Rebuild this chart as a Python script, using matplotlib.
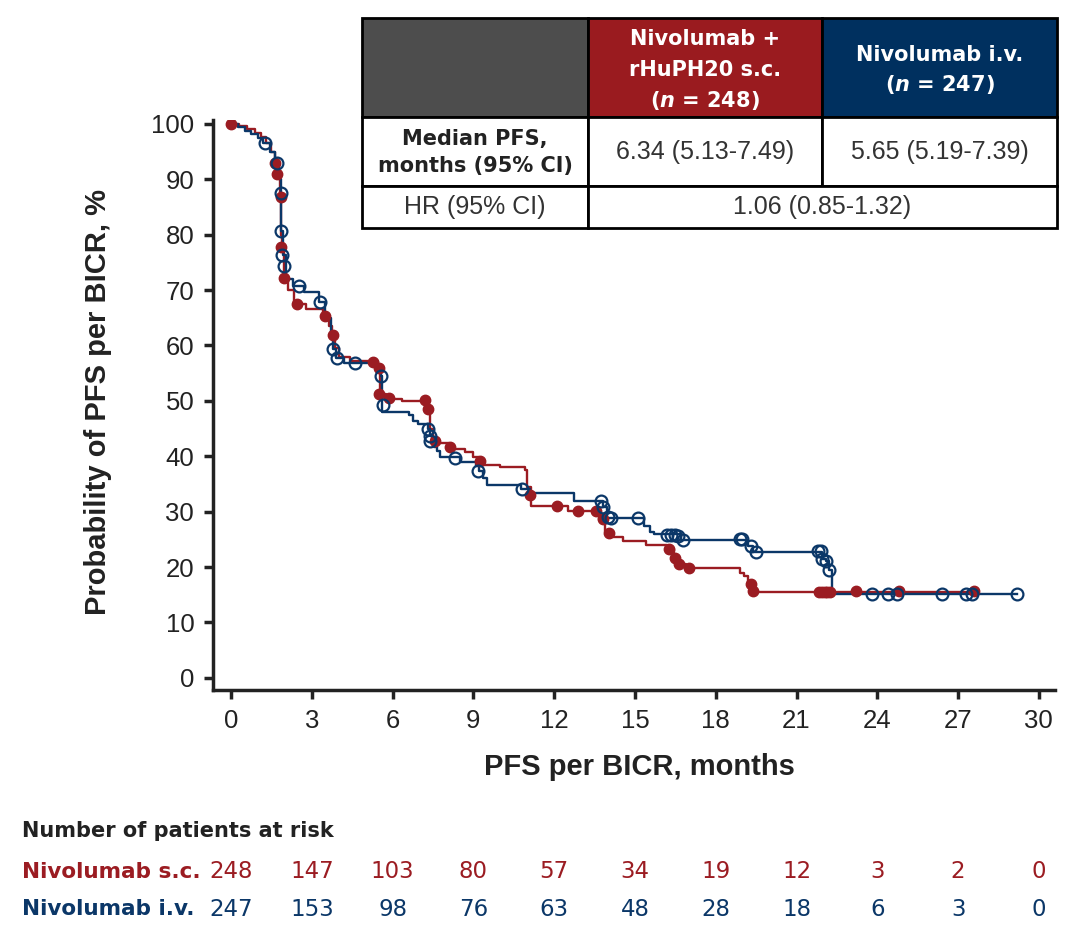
import matplotlib
matplotlib.use("Agg")
import matplotlib.pyplot as plt
import matplotlib.transforms as mtransforms
from matplotlib.patches import Rectangle

plt.rcParams['font.family'] = ['Liberation Sans', 'DejaVu Sans']

RED = "#9b1c22"
NAVY = "#0b3768"
INK = "#222222"

# Kaplan-Meier step curves (months, % PFS)
sc_t = [0, 0.3, 0.6, 0.9, 1.1, 1.3, 1.5, 1.65, 1.75, 1.82, 1.86, 1.9, 1.95, 2.1, 2.35,
        2.8, 3.4, 3.65, 3.75, 3.85, 4.0, 4.4, 5.45, 5.55, 5.75, 6.35, 7.3, 7.4, 7.5,
        8.1, 8.7, 9.0, 9.2, 9.4, 10.0, 10.9, 11.0, 11.15, 12.5, 13.65, 13.9, 14.2,
        14.55, 15.4, 16.2, 16.45, 16.6, 16.9, 18.9, 19.05, 19.2, 19.3, 27.7]
sc_s = [100, 99.6, 99.0, 98.4, 97.6, 96.6, 95.0, 93.0, 91.0, 87.0, 80.0, 77.5, 72.2, 70.0, 67.4,
        66.5, 65.4, 63.5, 61.8, 59.5, 58.0, 57.2, 56.2, 51.2, 50.4, 49.9, 48.6, 45.0, 42.3,
        41.3, 40.7, 39.8, 39.2, 38.5, 38.0, 37.5, 34.5, 31.0, 30.2, 28.5, 26.3, 25.4,
        24.7, 24.0, 23.2, 21.8, 20.6, 19.75, 19.0, 18.3, 17.0, 15.55, 15.55]

iv_t = [0, 0.25, 0.5, 0.75, 1.0, 1.2, 1.45, 1.65, 1.78, 1.84, 1.87, 1.92, 2.05, 2.3, 2.7,
        3.25, 3.5, 3.7, 3.78, 3.9, 4.2, 5.45, 5.56, 5.62, 6.6, 6.75, 6.95, 7.3, 7.38,
        7.45, 7.55, 7.65, 7.75, 8.5, 9.1, 9.2, 9.35, 9.5, 10.75, 11.1, 12.75, 13.8,
        13.95, 15.35, 15.55, 15.7, 16.7, 19.2, 19.4, 21.95, 22.1, 22.2, 22.3, 29.2]
iv_s = [100, 99.4, 98.8, 98.2, 97.5, 96.6, 95.0, 93.0, 90.0, 87.6, 80.6, 76.4, 72.0, 70.7, 69.6,
        67.8, 65.0, 62.0, 59.3, 57.8, 56.9, 55.5, 54.5, 48.0, 47.4, 46.4, 45.8, 44.9, 43.7,
        42.5, 41.6, 41.0, 39.8, 39.0, 38.3, 37.4, 36.0, 34.8, 34.0, 33.3, 31.95, 30.8,
        28.8, 27.4, 26.3, 25.9, 24.9, 23.8, 22.8, 21.4, 21.1, 19.5, 15.1, 15.1]

# censored observations
sc_cens_t = [0, 1.63, 1.7, 1.84, 1.84, 1.95, 2.45, 3.49, 3.78, 5.27, 5.5, 5.5, 5.85, 7.2, 7.33,
             7.58, 8.14, 9.26, 11.09, 12.1, 12.87, 13.56, 13.8, 14.05, 16.28, 16.5, 16.65,
             17.0, 19.3, 19.37, 21.85, 21.95, 22.05, 22.15, 22.25, 23.2, 24.8, 27.6]
sc_cens_s = [100, 93, 91, 86.8, 77.7, 72.2, 67.4, 65.4, 61.8, 57.0, 56.0, 51.2, 50.6, 50.2, 48.6,
             42.8, 41.6, 39.2, 33.0, 31.1, 30.2, 30.2, 28.6, 26.1, 23.2, 21.7, 20.6,
             19.75, 16.9, 15.7, 15.55, 15.55, 15.55, 15.55, 15.55, 15.7, 15.7, 15.7]

iv_cens_t = [1.26, 1.7, 1.84, 1.84, 1.88, 1.95, 2.52, 3.3, 3.78, 3.92, 4.6, 5.56, 5.66, 7.33,
             7.4, 7.4, 8.33, 9.17, 10.8, 13.75, 13.8, 14.0, 14.1, 15.1, 16.2, 16.35, 16.5,
             16.6, 16.8, 18.9, 18.98, 19.3, 19.5, 21.78, 21.9, 21.96, 22.1, 22.2, 23.8,
             24.4, 24.75, 26.4, 27.3, 27.5, 29.2]
iv_cens_s = [96.6, 93, 87.6, 80.6, 76.4, 74.3, 70.7, 67.8, 59.3, 57.8, 56.8, 54.5, 49.2, 44.9,
             43.7, 42.8, 39.6, 37.4, 34.0, 31.95, 30.8, 29.0, 28.8, 28.8, 25.8, 25.8, 25.8,
             25.6, 24.9, 25.0, 25.0, 23.8, 22.8, 22.9, 22.9, 21.4, 21.1, 19.5, 15.1,
             15.1, 15.1, 15.1, 15.1, 15.1, 15.1]

risk_times = [0, 3, 6, 9, 12, 15, 18, 21, 24, 27, 30]
risk_sc = [248, 147, 103, 80, 57, 34, 19, 12, 3, 2, 0]
risk_iv = [247, 153, 98, 76, 63, 48, 28, 18, 6, 3, 0]

fig = plt.figure(figsize=(10.8, 9.36), dpi=100)
ax = fig.add_axes([213 / 1080, 1 - 690 / 936, (1055 - 213) / 1080, (690 - 120) / 936])

ax.step(sc_t, sc_s, where='post', color=RED, lw=1.7, zorder=3)
ax.step(iv_t, iv_s, where='post', color=NAVY, lw=1.7, zorder=4)
ax.plot(sc_cens_t, sc_cens_s, 'o', color=RED, ms=7.5, zorder=5)
ax.plot(iv_cens_t, iv_cens_s, 'o', mfc='none', mec=NAVY, mew=1.6, ms=8.5, zorder=6)

ax.set_xlim(-0.67, 30.6)
ax.set_ylim(-2.2, 100.7)
ax.set_xticks(risk_times)
ax.set_yticks(range(0, 101, 10))
ax.tick_params(labelsize=18.5, width=2.5, length=6.5, pad=7, color=INK, labelcolor=INK)
for side in ['top', 'right']:
    ax.spines[side].set_visible(False)
for side in ['left', 'bottom']:
    ax.spines[side].set_linewidth(2.5)
    ax.spines[side].set_color(INK)
ax.set_xlabel('PFS per BICR, months', fontsize=21, fontweight='bold', color=INK)
ax.set_ylabel('Probability of PFS per BICR, %', fontsize=21, fontweight='bold', color=INK)
ax.xaxis.set_label_coords(0.506, -0.11)
ax.yaxis.set_label_coords(-0.12, 0.505)

# overlay in pixel coordinates for the table and risk table
ov = fig.add_axes([0, 0, 1, 1], zorder=10)
ov.set_xlim(0, 1080)
ov.set_ylim(936, 0)
ov.axis('off')
ov.patch.set_alpha(0)

cols = [362, 588, 822, 1057]
rows = [18, 117, 186, 228]
cells = [
    (0, 1, 0, 1, '#4d4d4d'),
    (1, 2, 0, 1, '#9a1b1f'),
    (2, 3, 0, 1, '#00305f'),
    (0, 1, 1, 2, 'white'),
    (1, 2, 1, 2, 'white'),
    (2, 3, 1, 2, 'white'),
    (0, 1, 2, 3, 'white'),
    (1, 3, 2, 3, 'white'),
]
for c0, c1, r0, r1, fc in cells:
    ov.add_patch(Rectangle((cols[c0], rows[r0]), cols[c1] - cols[c0], rows[r1] - rows[r0],
                           fc=fc, ec='black', lw=2))

hb = dict(ha='center', va='center', fontsize=15, fontweight='bold', family='DejaVu Sans')
hr = dict(ha='center', va='center', fontsize=18, color='#333333')
xc1 = (cols[1] + cols[2]) / 2
xc2 = (cols[2] + cols[3]) / 2
xc0 = (cols[0] + cols[1]) / 2
ov.text(xc1, 39, 'Nivolumab +', color='white', **hb)
ov.text(xc1, 70, 'rHuPH20 s.c.', color='white', **hb)
ov.text(xc1, 100, '($\\mathbfit{n}$ = 248)', color='white', **hb)
ov.text(xc2, 55, 'Nivolumab i.v.', color='white', **hb)
ov.text(xc2, 85, '($\\mathbfit{n}$ = 247)', color='white', **hb)
ov.text(xc0, 139, 'Median PFS,', color=INK, **hb)
ov.text(xc0, 166, 'months (95% CI)', color=INK, **hb)
ov.text(xc1, 152, '6.34 (5.13-7.49)', **hr)
ov.text(xc2, 152, '5.65 (5.19-7.39)', **hr)
ov.text(xc0, 207, 'HR (95% CI)', **hr)
ov.text((cols[1] + cols[3]) / 2, 207, '1.06 (0.85-1.32)', **hr)

# number at risk
rb = dict(fontsize=15.5, fontweight='bold', family='DejaVu Sans', va='center')
ov.text(22, 831, 'Number of patients at risk', color=INK, fontsize=15, fontweight='bold',
        family='DejaVu Sans', va='center')
ov.text(22, 872, 'Nivolumab s.c.', color=RED, **rb)
ov.text(22, 909, 'Nivolumab i.v.', color=NAVY, **rb)
bt = mtransforms.blended_transform_factory(ax.transData, ov.transData)
for t, a, b in zip(risk_times, risk_sc, risk_iv):
    ov.text(t, 872, str(a), transform=bt, ha='center', va='center', fontsize=16.5,
            family='DejaVu Sans', color=RED)
    ov.text(t, 909, str(b), transform=bt, ha='center', va='center', fontsize=16.5,
            family='DejaVu Sans', color=NAVY)

fig.savefig('out.png', dpi=100)
